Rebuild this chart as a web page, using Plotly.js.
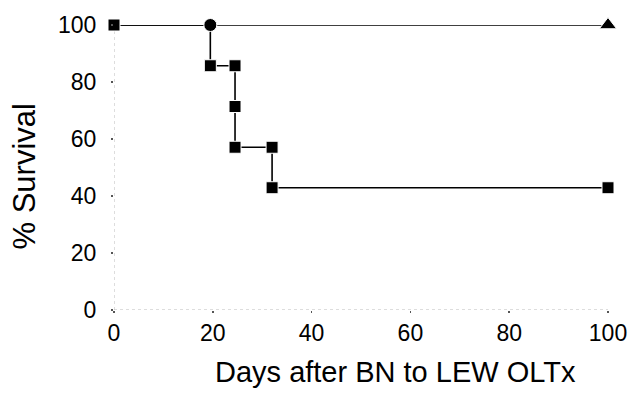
<!DOCTYPE html>
<html>
<head>
<meta charset="utf-8">
<script src="https://cdn.plot.ly/plotly-3.0.1.min.js"></script>
<style>html,body{margin:0;padding:0;background:#fff;}#chart{width:629px;height:394px;}</style>
</head>
<body>
<div id="chart"></div>
<script>
// Group A: rejecting grafts (Kaplan-Meier steps)
var daysA = [0, 19.5, 19.5, 24.5, 24.5, 24.5, 32, 32, 100];
var survA = [100, 100, 85.7, 85.7, 71.4, 57.1, 57.1, 42.9, 42.9];
var symA = ['square', 'circle', 'square', 'square', 'square', 'square', 'square', 'square', 'square'];
// Group B: all survive
var daysB = [0, 100];
var survB = [100, 100];
var symB = ['square', 'triangle-up'];

var xTicks = [0, 20, 40, 60, 80, 100];
var yTicks = [0, 20, 40, 60, 80, 100];
var xTitle = 'Days after BN to LEW OLTx';
var yTitle = '% Survival';

var font = 'Liberation Sans, Arial, sans-serif';

var traces = [
  {x: daysB, y: survB, mode: 'lines+markers', cliponaxis: false,
   line: {color: '#000', width: 1.6},
   marker: {symbol: symB, size: [11, 15], color: '#000', opacity: 1}},
  {x: daysA, y: survA, mode: 'lines+markers', cliponaxis: false,
   line: {color: '#000', width: 1.6},
   marker: {symbol: symA, size: [12, 13, 12, 12, 12, 12, 12, 12, 12], color: '#000', opacity: 1}}
];

var layout = {
  width: 629, height: 394,
  margin: {l: 114, r: 21, t: 25, b: 84},
  paper_bgcolor: '#fff', plot_bgcolor: '#fff',
  showlegend: false,
  font: {family: font, color: '#000', size: 23},
  xaxis: {range: [0, 100], tickvals: xTicks, ticktext: xTicks.map(String),
    showgrid: false, zeroline: false, showline: false,
    ticks: 'outside', ticklen: 2, tickcolor: '#555', tickwidth: 1.5,
    ticklabelstandoff: 0, tickfont: {size: 23, family: font, color: '#000'}},
  yaxis: {range: [0, 100], tickvals: yTicks, ticktext: yTicks.map(String),
    showgrid: false, zeroline: false, showline: false,
    ticks: 'outside', ticklen: 2, tickcolor: '#555', tickwidth: 1.5,
    ticklabelstandoff: 10, tickfont: {size: 23, family: font, color: '#000'}},
  shapes: [
    {type: 'line', xref: 'x', yref: 'y', x0: 0, x1: 100, y0: 0, y1: 0,
     line: {color: '#bbb', width: 1, dash: 'dot'}, layer: 'below'},
    {type: 'line', xref: 'x', yref: 'y', x0: 0, x1: 0, y0: 0, y1: 100,
     line: {color: '#bbb', width: 1, dash: 'dot'}, layer: 'below'}
  ],
  annotations: [
    {text: xTitle, xref: 'paper', yref: 'paper', x: 0.57, y: 0, yshift: -62,
     xanchor: 'center', yanchor: 'middle', showarrow: false,
     font: {size: 29, family: font, color: '#000'}},
    {text: yTitle, xref: 'paper', yref: 'paper', x: 0, xshift: -90, y: 0.5, yshift: -9,
     textangle: -90, xanchor: 'center', yanchor: 'middle', showarrow: false,
     font: {size: 31, family: font, color: '#000'}}
  ]
};

Plotly.newPlot('chart', traces, layout, {displayModeBar: false, staticPlot: true});
</script>
</body>
</html>
